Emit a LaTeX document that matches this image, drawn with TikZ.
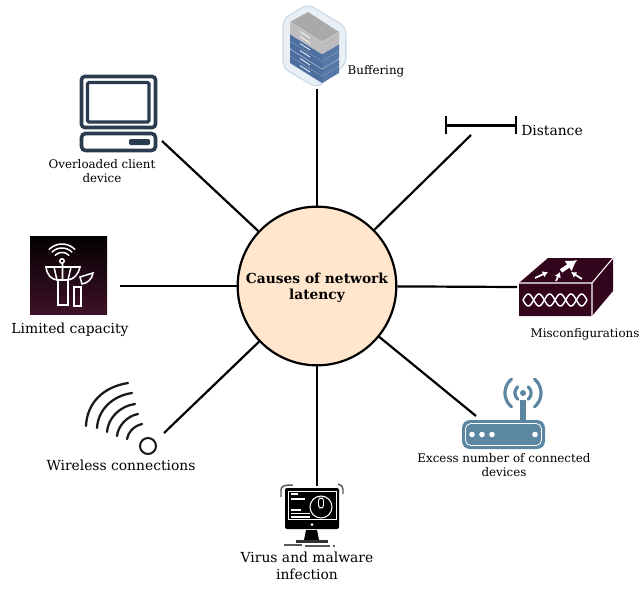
\documentclass[tikz,border=0pt]{standalone}
\usepackage{fontspec}
\setmainfont{DejaVu Serif}
\usetikzlibrary{arrows.meta}
\definecolor{hubfill}{HTML}{FFE6CC}
\definecolor{navy}{HTML}{2A3B4F}
\definecolor{plum}{HTML}{33051C}
\definecolor{steel}{HTML}{5B87A2}
\definecolor{srvblue}{HTML}{4C6F9F}
\definecolor{srvblued}{HTML}{5578A6}
\definecolor{srvgray}{HTML}{A9A9A9}
\definecolor{srvgrayd}{HTML}{BDBDBD}
\definecolor{hexfill}{HTML}{E8EFF5}
\definecolor{hexedge}{HTML}{CCD8E4}
\tikzset{
 link/.style={line width=1.65pt,draw=black},
 lab/.style={align=center,inner sep=0pt,text=black},
 big/.style={lab,font=\fontsize{10.4pt}{12.4pt}\selectfont},
 tiny/.style={lab,font=\fontsize{8.9pt}{10.6pt}\selectfont},
}
\newcommand{\slab}[4]{% offset, top, left, right
 \fill[#2] (308,12+#1)--(339,32+#1)--(322,42+#1)--(290,22+#1)--cycle;
 \fill[#3] (290,22+#1)--(322,42+#1)--(322,49+#1)--(290,29+#1)--cycle;
 \fill[#4] (322,42+#1)--(339,32+#1)--(339,39+#1)--(322,49+#1)--cycle;
 \draw[white!85!black,line width=.25pt] (290,22+#1)--(322,42+#1)--(339,32+#1);
 \draw[white,line width=.55pt] (300,31.5+#1)--(310,38+#1);
}
\begin{document}
\begin{tikzpicture}[x=0.75pt,y=-0.75pt]
\useasboundingbox (0,0) rectangle (643,600);
% buffering icon
\fill[draw=hexedge,fill=hexfill,line width=.8pt,rounded corners=5pt]
 (308,4)--(346,27)--(346,64)--(317,88)--(283,68)--(283,19)--cycle;
\slab{34}{srvblue}{srvblue}{srvblued}
\slab{27}{srvblue}{srvblue}{srvblued}
\slab{19}{srvblue}{srvblue}{srvblued}
\slab{12}{srvblue}{srvblue}{srvblued}
\slab{5}{srvgray}{srvgrayd}{srvgrayd}
\slab{0}{srvgray}{srvgrayd}{srvgrayd}
% client icon
\draw[navy,line width=2.7pt,rounded corners=2.5pt] (81.5,76.5) rectangle (155.5,127.5);
\draw[navy,line width=2.4pt,rounded corners=1pt] (87.5,82.5) rectangle (149,122);
\draw[navy,line width=2.7pt,rounded corners=3pt] (81.5,133.5) rectangle (155.5,150.5);
\fill[navy,rounded corners=1pt] (129,139) rectangle (150,145);
% distance icon
\draw[line width=1.6pt] (446,116)--(446,134) (516,116)--(516,134) (446,125.5)--(516,125.5);
% capacity icon
\shade[top color=black!92!plum,bottom color=plum!95!white] (30,236) rectangle (107,314);
\begin{scope}[white,line width=1.15pt,line cap=round]
 \draw plot[domain=-135:-45,samples=12,smooth] ({62+18*cos(\x)},{262+18*sin(\x)});
 \draw plot[domain=-135:-45,samples=12,smooth] ({62+14*cos(\x)},{262+14*sin(\x)});
 \draw plot[domain=-135:-45,samples=12,smooth] ({62+9.5*cos(\x)},{262+9.5*sin(\x)});
 \draw (62,261) circle[radius=2.2];
 \draw (46,267)--(80,267) .. controls (78,275) and (74,279) .. (68,280)--(57,280) .. controls (51,279) and (47,275) .. (46,267)--cycle;
 \draw (54,267)--(57,280) (62.5,264)--(62.5,280) (71,267)--(68,280);
 \draw (58,280)--(58,305)--(68,305)--(68,280);
 \draw (74,287)--(74,306)--(81,306)--(81,287)--cycle;
 \draw (80,277)--(93,273) .. controls (92,279) and (88,283) .. (82,284)--cycle;
\end{scope}
% misconfiguration icon
\fill[plum] (519,283)--(548,258)--(613,258)--(613,291)--(592,316)--(519,316)--cycle;
\draw[white,line width=.8pt] (519,283)--(592,283)--(613,258) (592,283)--(592,316);
\draw[white,line width=1.1pt] plot[domain=0:64,samples=65,smooth] ({523+\x},{300+6*sin(180*\x/10.67)});
\draw[white,line width=1.1pt] plot[domain=0:64,samples=65,smooth] ({523+\x},{300-6*sin(180*\x/10.67)});
\draw[white,line width=3pt,-{Latex[length=8pt,width=10pt]}] (561,271)--(577,260);
\draw[white,line width=1.3pt,-{Latex[length=4pt,width=5pt]}] (535,278)--(548,272);
\draw[white,line width=1.3pt,-{Latex[length=4pt,width=5pt]}] (556,281)--(560,272);
\draw[white,line width=1.3pt,-{Latex[length=4pt,width=5pt]}] (582,279)--(571,272);
% router icon
\fill[steel,rounded corners=6pt] (462,420) rectangle (545,449);
\draw[white,line width=.6pt,rounded corners=4pt] (465.5,423.5) rectangle (541.5,445.5);
\foreach \p in {472,482,492,535} \fill[white] (\p,434.5) circle[radius=2.8];
\fill[steel] (520,400) rectangle (526,420);
\fill[steel] (523,393) circle[radius=3];
\begin{scope}[steel,line width=2.4pt,line cap=round]
 \draw plot[domain=-50:50,samples=12,smooth] ({523+8*cos(\x)},{393+8*sin(\x)});
 \draw plot[domain=130:230,samples=12,smooth] ({523+8*cos(\x)},{393+8*sin(\x)});
 \draw plot[domain=-50:50,samples=12,smooth] ({523+18*cos(\x)},{393+18*sin(\x)});
 \draw plot[domain=130:230,samples=12,smooth] ({523+18*cos(\x)},{393+18*sin(\x)});
\end{scope}
% virus icon
\fill[black,rounded corners=1.5pt] (285,488) rectangle (339,529);
\draw[white,line width=.6pt] (288.5,491) rectangle (336.5,519);
\draw[white,line width=.8pt] (321,507) circle[radius=11];
\draw[white,line width=.7pt,rounded corners=2pt] (318.5,498) rectangle (323.5,508);
\draw[white,line width=.9pt] (291,494)--(298,494) (291,499)--(305,499) (291,510)--(301,510) (291,513.5)--(310,513.5) (291,517)--(310,517);
\fill[white] (312,524.5) circle[radius=1.5];
\fill[black] (306,530)--(317,530)--(319,540)--(304,540)--cycle;
\fill[black!80] (296,540) rectangle (328,542.5);
\draw[black!65,line width=1.1pt] (284,545)--(302,545) (305,546)--(330,546) (333,546)--(335,546);
\draw[black!65,line width=1.1pt] (281,497)--(281,490) .. controls (281,486) and (284,485) .. (293,485);
\draw[black!65,line width=1.1pt] (343,494)--(343,489) .. controls (343,486) and (341,485) .. (338,484);
% wireless icon
\begin{scope}[black!90,line width=1.7pt,line cap=round]
 \draw (86,426) .. controls (87,403) and (103,387) .. (128,383);
 \draw (97,428) .. controls (98,410) and (112,396) .. (132,393);
 \draw (107,432) .. controls (108,418) and (120,406) .. (135,404);
 \draw (117,436) .. controls (118,426) and (127,416) .. (138,414);
 \draw (127,439) .. controls (128,432) and (134,426) .. (142,424);
\end{scope}
\draw[black!90,line width=1.5pt] (148,446) circle[radius=8];
% hub and connectors
\node[circle,draw=black,line width=1.65pt,fill=hubfill,minimum size=119pt,inner sep=0pt] (hub) at (317,286) {};
\node[lab,font=\bfseries\fontsize{10.35pt}{12pt}\selectfont] (hubtext) at (317,287.5) {Causes of network\\latency};
\coordinate (buf) at (317,89);
\coordinate (cli) at (162,141);
\coordinate (dis) at (471,135);
\coordinate (cap) at (120,286);
\coordinate (mis) at (517,287);
\coordinate (wir) at (164,433);
\coordinate (exc) at (476,416);
\coordinate (vir) at (317,486);
\foreach \t in {buf,cli,dis,cap,mis,wir,exc,vir} \draw[link] (hub)--(\t);
% labels
\node[tiny] (lbuf) at (376,71) {Buffering};
\node[tiny] (lcli) at (102,171) {Overloaded client\\device};
\node[big] (ldis) at (552,130) {Distance};
\node[big] (lcap) at (70,330) {Limited capacity};
\node[tiny] (lmis) at (585,334) {Misconfigurations};
\node[tiny] (lexc) at (504,465) {Excess number of connected\\devices};
\node[big] (lwir) at (121,465) {Wireless connections};
\node[big] (lvir) at (307,566) {Virus and malware\\infection};
\end{tikzpicture}
\end{document}
